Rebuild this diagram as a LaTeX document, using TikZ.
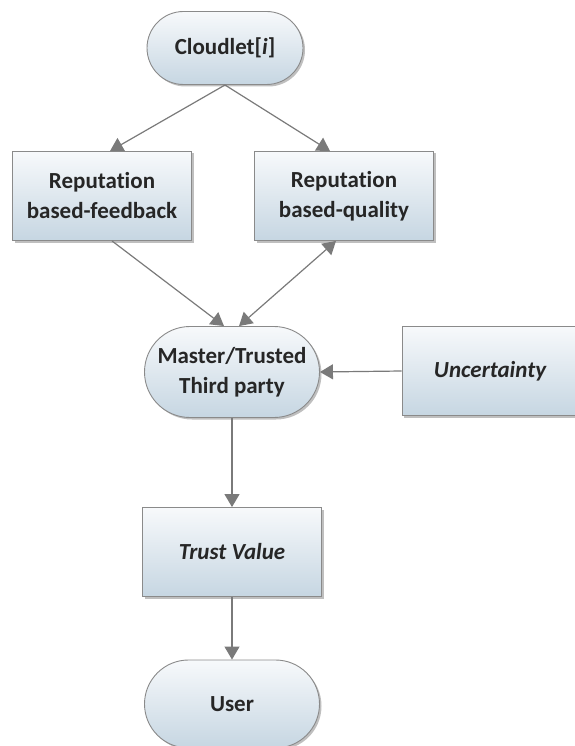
\documentclass[tikz,border=0pt]{standalone}
\usepackage{fontspec}
\setmainfont{Carlito}[Ligatures=NoCommon]
\usetikzlibrary{shapes.misc,shadows,arrows.meta}
\definecolor{edgegrey}{HTML}{8A8A8A}
\definecolor{arrowgrey}{HTML}{7A7A7A}
\definecolor{topfill}{HTML}{F7F9FB}
\definecolor{botfill}{HTML}{C6D6E2}
\definecolor{txt}{HTML}{262626}
\tikzset{
  x=1pt, y=-1pt,
  base/.style={draw=edgegrey, line width=0.9pt, top color=topfill, bottom color=botfill,
    drop shadow={shadow xshift=2pt, shadow yshift=-2pt, fill=black, opacity=0.25},
    font=\fontsize{23}{30}\selectfont\bfseries, text=txt, align=center, inner sep=2pt},
  pill/.style={base, rounded rectangle, minimum width=#1},
  pill/.default=178pt,
  boxnode/.style={base, rectangle, minimum width=179pt, minimum height=89pt},
  conn/.style={draw=arrowgrey, line width=1.2pt, -{Triangle[length=13pt,width=15pt]}},
  conn2/.style={draw=arrowgrey, line width=1.2pt, {Triangle[length=13pt,width=15pt]}-{Triangle[length=13pt,width=15pt]}}
}
\begin{document}
\begin{tikzpicture}
\useasboundingbox (0,0) rectangle (574,746);
\node[pill=160pt, minimum height=73pt] (cl) at (225,48) {Cloudlet[\textit{i}]};
\node[boxnode] (fb) at (102,196) {Reputation\\based-feedback};
\node[boxnode] (ql) at (344,196) {Reputation\\based-quality};
\node[pill=179pt, minimum height=91pt] (ma) at (232,372) {Master/Trusted\\Third party};
\node[boxnode, minimum width=176pt] (un) at (490,371) {\itshape Uncertainty};
\node[boxnode] (tv) at (232,552) {\itshape Trust Value};
\node[pill=179pt, minimum height=88pt] (us) at (232,704) {User};
\coordinate (clb) at (225,85);
\draw[conn] (clb) -- (fb.north -| 110,0);
\draw[conn] (clb) -- (ql.north -| 330,0);
\draw[conn] (fb.south -| 112,0) -- (ma.north -| 224,0);
\draw[conn2] (ma.north -| 239,0) -- (ql.south -| 336,0);
\draw[conn] (un.west) -- (ma.east);
\draw[conn] (ma.south) -- (tv.north);
\draw[conn] (tv.south) -- (us.north);
\end{tikzpicture}
\end{document}
